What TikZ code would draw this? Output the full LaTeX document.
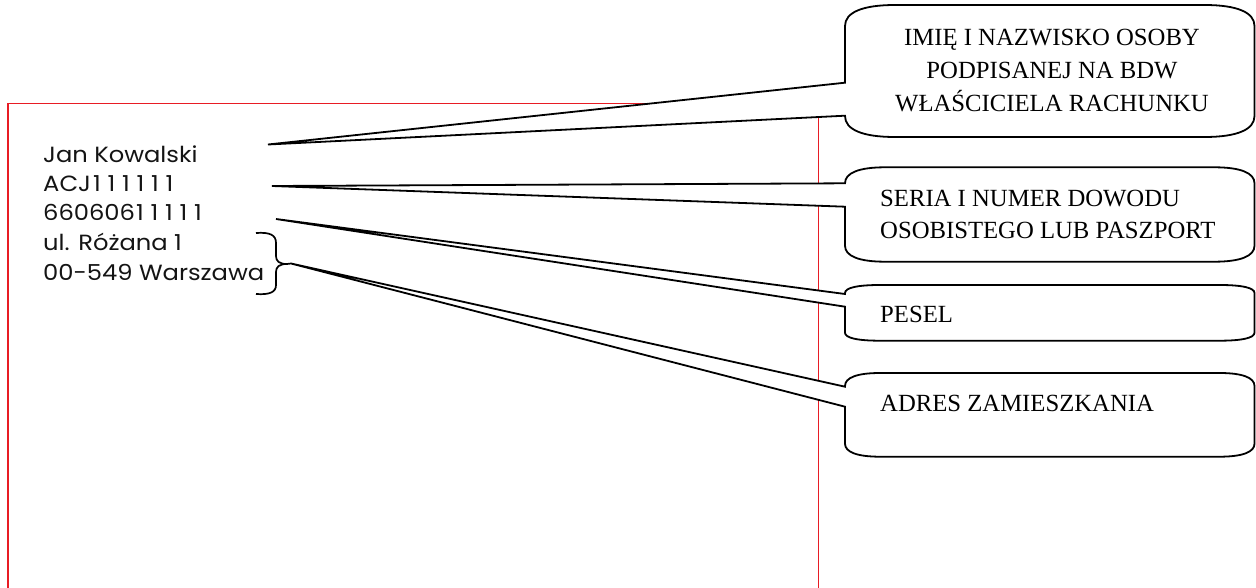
\documentclass[tikz,border=0pt]{standalone}
\usepackage{fontspec}
\setmainfont{Liberation Serif}
\newfontfamily\namefont{Poppins}[FakeStretch=1.1]
\definecolor{framered}{RGB}{232,28,36}
\definecolor{inkblack}{RGB}{20,20,20}
\newcommand\wedgebox[9]{%
  \filldraw[calloutline] (#1,#5) -- (#1,{#2+#9})
    .. controls (#1,{#2+0.35*#9}) and ({#1+0.35*#8},#2) .. ({#1+#8},#2)
    -- ({#3-#8},#2)
    .. controls ({#3-0.35*#8},#2) and (#3,{#2+0.35*#9}) .. (#3,{#2+#9})
    -- (#3,{#4-#9})
    .. controls (#3,{#4-0.35*#9}) and ({#3-0.35*#8},#4) .. ({#3-#8},#4)
    -- ({#1+#8},#4)
    .. controls ({#1+0.35*#8},#4) and (#1,{#4-0.35*#9}) .. (#1,{#4-#9})
    -- (#1,#6) -- (#7) -- cycle;}
\newcommand\oa{1\kern6.8pt}
\begin{document}
\begin{tikzpicture}[x=1pt,y=-1pt,
  frame/.style={draw=framered,line width=1.5pt},
  calloutline/.style={draw=black,fill=white,line width=1.8pt,line join=miter},
  bracestyle/.style={draw=black,line width=1.7pt},
  nametext/.style={font=\namefont\fontsize{22}{25}\selectfont,text=inkblack,anchor=base west,inner sep=0pt},
  ctext/.style={font=\fontsize{24.7}{33}\selectfont,text=black,inner sep=0pt},
]
\useasboundingbox (0,0) rectangle (1256,588);
% red page frame
\draw[frame] (8,590) -- (8,103.5) -- (818.5,103.5) -- (818.5,590);
% text block
\node[nametext] (name)   at (43,163)   {Jan Kowalski};
\node[nametext] (idno)   at (43,192)   {ACJ\kern2pt\oa\oa\oa\oa\oa 1};
\node[nametext] (pesel)  at (43,221)   {660606\kern1pt\oa\oa\oa\oa 1};
\node[nametext] (street) at (43,250.5) {ul. Różana 1};
\node[nametext] (city)   at (43,280)   {00-549 Warszawa};
% pointer tips
\coordinate (t1) at (268,144.5);
\coordinate (t2) at (272,186);
\coordinate (t3) at (276,219);
\coordinate (bracetip) at (287,264);
\coordinate (t4) at (291,263.5);
% brace
\draw[bracestyle] (256,233) .. controls (270,232) and (276,235) .. (276,243)
  -- (276,256) .. controls (276,261) and (279,264) .. (bracetip)
  .. controls (279,264) and (276,267) .. (276,272)
  -- (276,285) .. controls (276,292) and (270,295) .. (256,294);
\draw[bracestyle] (bracetip) -- (t4);
% callouts
\wedgebox{845}{5}{1254.5}{137}{82.7}{115.7}{t1}{50}{21}
\wedgebox{845}{167.3}{1254.5}{261.7}{183.3}{206.7}{t2}{40}{16}
\wedgebox{845}{285}{1254.5}{340.7}{294}{306.7}{t3}{35}{8}
\wedgebox{845}{373}{1254.5}{456.7}{386.7}{406.7}{t4}{35}{13}
% callout texts
\node[ctext,anchor=base] (c1a) at (1052,45.5)  {IMIĘ I NAZWISKO OSOBY};
\node[ctext,anchor=base] (c1b) at (1052,78.5)  {PODPISANEJ NA BDW};
\node[ctext,anchor=base] (c1c) at (1052,111.5) {WŁAŚCICIELA RACHUNKU};
\node[ctext,anchor=base west] (c2a) at (880,206.7) {SERIA I NUMER DOWODU};
\node[ctext,anchor=base west] (c2b) at (880,238.3) {OSOBISTEGO LUB PASZPORT};
\node[ctext,anchor=base west] (c3)  at (880,322)   {PESEL};
\node[ctext,anchor=base west] (c4)  at (880,411.7) {ADRES ZAMIESZKANIA};
\end{tikzpicture}
\end{document}
